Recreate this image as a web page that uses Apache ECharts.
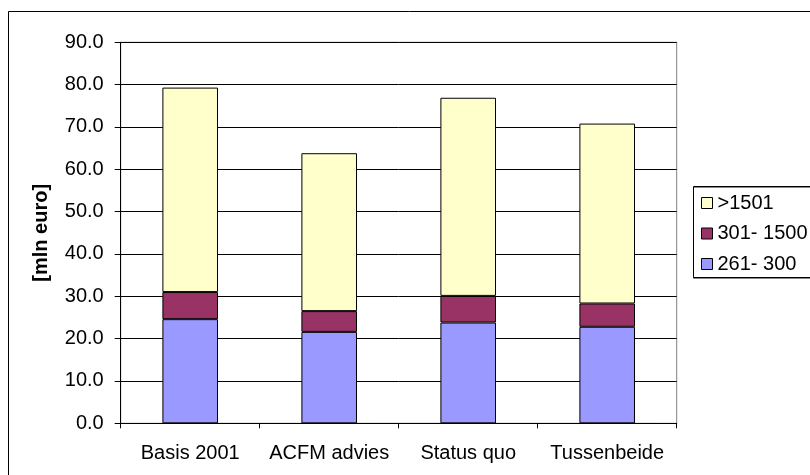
<!DOCTYPE html>
<html>
<head>
<meta charset="utf-8">
<script src="https://cdn.jsdelivr.net/npm/echarts@6/dist/echarts.min.js"></script>
<style>html,body{margin:0;padding:0;background:#fff;}#c{width:810px;height:475px;}</style>
</head>
<body>
<div id="c"></div>
<script>
var categories = ['Basis 2001', 'ACFM advies', 'Status quo', 'Tussenbeide'];
var seriesNames = ['261- 300', '301- 1500', '>1501'];
var s261_300 = [24.6, 21.6, 23.8, 22.8];
var s301_1500 = [6.4, 4.9, 6.3, 5.5];
var s1501 = [48.3, 37.3, 46.8, 42.5];
var yTicks = [0, 10, 20, 30, 40, 50, 60, 70, 80, 90];
var yName = '[mln euro]';

var font = 'Liberation Sans, Arial, sans-serif';
var chart = echarts.init(document.getElementById('c'), null, {renderer: 'canvas'});
function mk(name, data, color) {
  return {
    name: name, type: 'bar', stack: 'total', data: data, barWidth: '40%',
    itemStyle: {color: color, borderColor: '#000', borderWidth: 1},
    emphasis: {disabled: true}
  };
}
chart.setOption({
  animation: false,
  backgroundColor: '#fff',
  textStyle: {fontFamily: font},
  grid: {left: 120.7, right: 133.3, top: 42.3, bottom: 51.7, show: true, borderColor: '#808080', borderWidth: 1, backgroundColor: 'transparent'},
  graphic: [
    {type: 'rect', z: 100, shape: {x: 8.5, y: 11.5, width: 900, height: 600}, style: {fill: 'none', stroke: '#000', lineWidth: 1}},
    {type: 'rect', z: 100, shape: {x: 693.5, y: 186.5, width: 200, height: 91}, style: {fill: 'none', stroke: '#000', lineWidth: 1, shadowColor: '#888', shadowOffsetY: 1, shadowBlur: 0}}
  ],
  legend: {
    orient: 'vertical', left: 701, top: 193, padding: 0, itemWidth: 11, itemHeight: 11, itemGap: 10.5,
    itemTextGap: 7,
    data: [seriesNames[2], seriesNames[1], seriesNames[0]],
    textStyle: {fontFamily: font, fontSize: 20, color: '#000', lineHeight: 20},
    itemStyle: {borderColor: '#000', borderWidth: 1},
    icon: 'rect', selectedMode: false
  },
  xAxis: {
    type: 'category', data: categories, boundaryGap: true,
    axisLine: {lineStyle: {color: '#000', width: 1}},
    axisTick: {show: true, interval: 0, length: 5, lineStyle: {color: '#000'}},
    axisLabel: {color: '#000', fontSize: 20, fontFamily: font, margin: 20, interval: 0, hideOverlap: false}
  },
  yAxis: {
    type: 'value', min: yTicks[0], max: yTicks[yTicks.length - 1], interval: 10,
    name: yName, nameLocation: 'middle', nameGap: 69, nameRotate: 90,
    nameTextStyle: {fontFamily: font, fontSize: 20, fontWeight: 'bold', color: '#000'},
    axisLine: {show: true, lineStyle: {color: '#000', width: 1}},
    axisTick: {show: true, length: 6, lineStyle: {color: '#000'}},
    axisLabel: {color: '#000', fontSize: 20, fontFamily: font, margin: 17, formatter: function (v) { return v.toFixed(1); }},
    splitLine: {show: true, lineStyle: {color: '#000', width: 1}}
  },
  series: [
    mk(seriesNames[0], s261_300, '#9999FF'),
    mk(seriesNames[1], s301_1500, '#993366'),
    mk(seriesNames[2], s1501, '#FFFFCC')
  ]
});
</script>
</body>
</html>
